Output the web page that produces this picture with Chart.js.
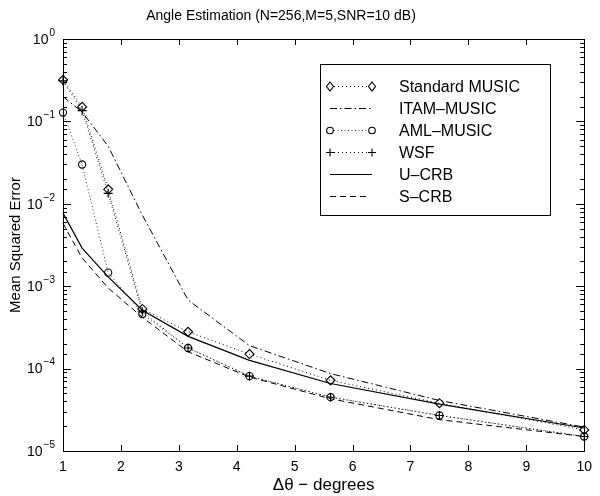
<!DOCTYPE html>
<html>
<head>
<meta charset="utf-8">
<script src="https://cdn.jsdelivr.net/npm/chart.js@4.4.1/dist/chart.umd.min.js"></script>
<style>
  html, body { margin: 0; padding: 0; background: #fff; }
  #wrap { width: 600px; height: 496px; }
</style>
</head>
<body>
<div id="wrap"><canvas id="mseChart" width="600" height="496"></canvas></div>
<script>
// ==========================
// DATA
// ==========================
const angles = [1, 1.33, 1.78, 2.37, 3.16, 4.22, 5.62, 7.5, 10];
const stdMusic = [0.32, 0.15, 0.015, 5.3e-4, 2.8e-4, 1.5e-4, 7.2e-5, 3.8e-5, 1.8e-5];
const itamMusic = [0.2, 0.13, 0.05, 7.3e-3, 6.8e-4, 1.9e-4, 8.7e-5, 4.1e-5, 1.95e-5];
const amlMusic = [0.128, 0.030, 1.46e-3, 4.6e-4, 1.78e-4, 8.1e-5, 4.5e-5, 2.7e-5, 1.5e-5];
const wsf = [0.31, 0.135, 0.0134, 4.9e-4, 1.78e-4, 8.1e-5, 4.5e-5, 2.7e-5, 1.5e-5];
const uCrb = [7.7e-3, 2.9e-3, 1.3e-3, 5.1e-4, 2.46e-4, 1.26e-4, 6.6e-5, 3.7e-5, 1.9e-5];
const sCrb = [5.8e-3, 2.2e-3, 9.5e-4, 4.2e-4, 1.6e-4, 7.9e-5, 4.3e-5, 2.4e-5, 1.5e-5];

const seriesNames = ["Standard MUSIC", "ITAM-MUSIC", "AML-MUSIC", "WSF", "U-CRB", "S-CRB"];
const legendLabels = ["Standard MUSIC", "ITAM\u2013MUSIC", "AML\u2013MUSIC", "WSF", "U\u2013CRB", "S\u2013CRB"];
const xTickValues = [1, 2, 3, 4, 5, 6, 7, 8, 9, 10];
const yExponents = [0, -1, -2, -3, -4, -5];
const titleText = "Angle Estimation (N=256,M=5,SNR=10 dB)";

const FONT = "'Liberation Sans', Arial, Helvetica, sans-serif";

// ==========================
// SERIES STYLES
// ==========================
const styles = [
  { dash: [1, 3],          marker: "rectRot", color: "#000" },
  { dash: [7, 3, 1.5, 3],  marker: null,      color: "#000" },
  { dash: [1, 2.5],        marker: "circle",  color: "#333" },
  { dash: [1, 3],          marker: "cross",   color: "#000" },
  { dash: [],              marker: null,      color: "#000" },
  { dash: [6, 4],          marker: null,      color: "#000" }
];
const seriesValues = [stdMusic, itamMusic, amlMusic, wsf, uCrb, sCrb];

const datasets = seriesValues.map((vals, i) => ({
  label: seriesNames[i],
  data: angles.map((a, k) => ({ x: a, y: vals[k] })),
  borderColor: styles[i].color,
  borderWidth: i === 4 ? 1.2 : 1,
  borderDash: styles[i].dash,
  pointStyle: styles[i].marker || "circle",
  pointRadius: styles[i].marker ? (styles[i].marker === "circle" ? 3.6 : 4.5) : 0,
  pointBackgroundColor: "rgba(255,255,255,0)",
  pointBorderColor: "#000",
  pointBorderWidth: 1.1,
  tension: 0,
  clip: false
}));

// ==========================
// HELPERS
// ==========================
function drawMarker(ctx, type, x, y) {
  ctx.save();
  ctx.setLineDash([]);
  ctx.strokeStyle = "#000";
  ctx.lineWidth = 1.1;
  ctx.beginPath();
  if (type === "rectRot") {
    ctx.moveTo(x, y - 4.5); ctx.lineTo(x + 3.5, y); ctx.lineTo(x, y + 4.5); ctx.lineTo(x - 3.5, y); ctx.closePath();
  } else if (type === "circle") {
    ctx.arc(x, y, 3.3, 0, Math.PI * 2);
  } else if (type === "cross") {
    ctx.moveTo(x - 4, y); ctx.lineTo(x + 4, y); ctx.moveTo(x, y - 4); ctx.lineTo(x, y + 4);
  }
  ctx.stroke();
  ctx.restore();
}

// frame, inward ticks, y tick labels with exponents, title, legend
const decorPlugin = {
  id: "decor",
  afterDraw(chart) {
    const { ctx, chartArea: ca, scales: { x, y } } = chart;
    ctx.save();
    ctx.strokeStyle = "#000";
    ctx.lineWidth = 1;
    ctx.setLineDash([]);
    ctx.strokeRect(Math.round(ca.left) + 0.5, Math.round(ca.top) + 0.5,
      Math.round(ca.right - ca.left), Math.round(ca.bottom - ca.top));

    // y ticks (log scale: major at powers of ten)
    ctx.beginPath();
    y.ticks.forEach(t => {
      const py = Math.round(y.getPixelForValue(t.value)) + 0.5;
      const lg = Math.log10(t.value);
      const len = Math.abs(lg - Math.round(lg)) < 1e-6 ? 8 : 4;
      ctx.moveTo(ca.left, py); ctx.lineTo(ca.left + len, py);
      ctx.moveTo(ca.right, py); ctx.lineTo(ca.right - len, py);
    });
    // x ticks
    xTickValues.forEach(v => {
      const px = Math.round(x.getPixelForValue(v)) + 0.5;
      ctx.moveTo(px, ca.bottom); ctx.lineTo(px, ca.bottom - 6);
      ctx.moveTo(px, ca.top); ctx.lineTo(px, ca.top + 6);
    });
    ctx.stroke();

    // y tick labels 10^n
    ctx.fillStyle = "#000";
    ctx.textBaseline = "middle";
    yExponents.forEach(e => {
      const py = y.getPixelForValue(Math.pow(10, e));
      const expStr = e === 0 ? "0" : "\u2212" + Math.abs(e);
      ctx.font = "10px " + FONT;
      const ew = ctx.measureText(expStr).width;
      ctx.font = "14px " + FONT;
      const bw = ctx.measureText("10").width;
      const right = 55;
      ctx.textAlign = "left";
      ctx.fillText("10", right - ew - bw - 1, py + 1);
      ctx.font = "10px " + FONT;
      ctx.fillText(expStr, right - ew, py - 6);
    });

    // title
    ctx.font = "14px " + FONT;
    ctx.textAlign = "center";
    ctx.fillText(titleText, 281, 16);

    // legend box
    const lx = 320.5, ly = 64.5, lw = 230, lh = 151;
    ctx.fillStyle = "#fff";
    ctx.fillRect(lx, ly, lw, lh);
    ctx.strokeRect(lx, ly, lw, lh);
    legendLabels.forEach((lab, i) => {
      const ry = Math.round(86 + i * 22) + 0.5;
      ctx.save();
      ctx.strokeStyle = styles[i].color;
      ctx.lineWidth = 1;
      ctx.setLineDash(styles[i].dash);
      ctx.beginPath();
      const x0 = styles[i].marker ? 334 : 330, x1 = styles[i].marker ? 368 : (i === 5 ? 366 : 372);
      ctx.moveTo(x0, ry); ctx.lineTo(x1, ry);
      ctx.stroke();
      ctx.restore();
      if (styles[i].marker) {
        drawMarker(ctx, styles[i].marker, 330, ry);
        drawMarker(ctx, styles[i].marker, 372, ry);
      }
      ctx.fillStyle = "#000";
      ctx.font = "16px " + FONT;
      ctx.textAlign = "left";
      ctx.textBaseline = "middle";
      ctx.fillText(lab, 399, ry + 1);
    });
    ctx.restore();
  }
};

// ==========================
// CHART
// ==========================
const chart = new Chart(document.getElementById("mseChart").getContext("2d"), {
  type: "line",
  data: { datasets },
  options: {
    responsive: false,
    animation: false,
    devicePixelRatio: 1,
    layout: { padding: { top: 39, right: 12, left: 0, bottom: 0 } },
    plugins: { legend: { display: false }, title: { display: false }, tooltip: { enabled: false } },
    scales: {
      x: {
        type: "linear",
        min: 1, max: 10,
        grid: { display: false, drawTicks: false },
        border: { display: false },
        ticks: { stepSize: 1, color: "#000", font: { family: FONT, size: 14 }, padding: 8, maxRotation: 0 },
        title: { display: true, text: "\u0394\u03b8 \u2212 degrees", color: "#000",
                 font: { family: FONT, size: 17 }, padding: { top: 0, bottom: 0 } },
        afterFit(scale) { scale.height = 45; }
      },
      y: {
        type: "logarithmic",
        min: 1e-5, max: 1,
        grid: { display: false, drawTicks: false },
        border: { display: false },
        ticks: { display: false },
        title: { display: true, text: "Mean Squared Error", color: "#000",
                 font: { family: FONT, size: 15 }, padding: { top: 7, bottom: 0 } },
        afterFit(scale) { scale.height; scale.width = 63; }
      }
    }
  },
  plugins: [decorPlugin]
});
</script>
</body>
</html>
